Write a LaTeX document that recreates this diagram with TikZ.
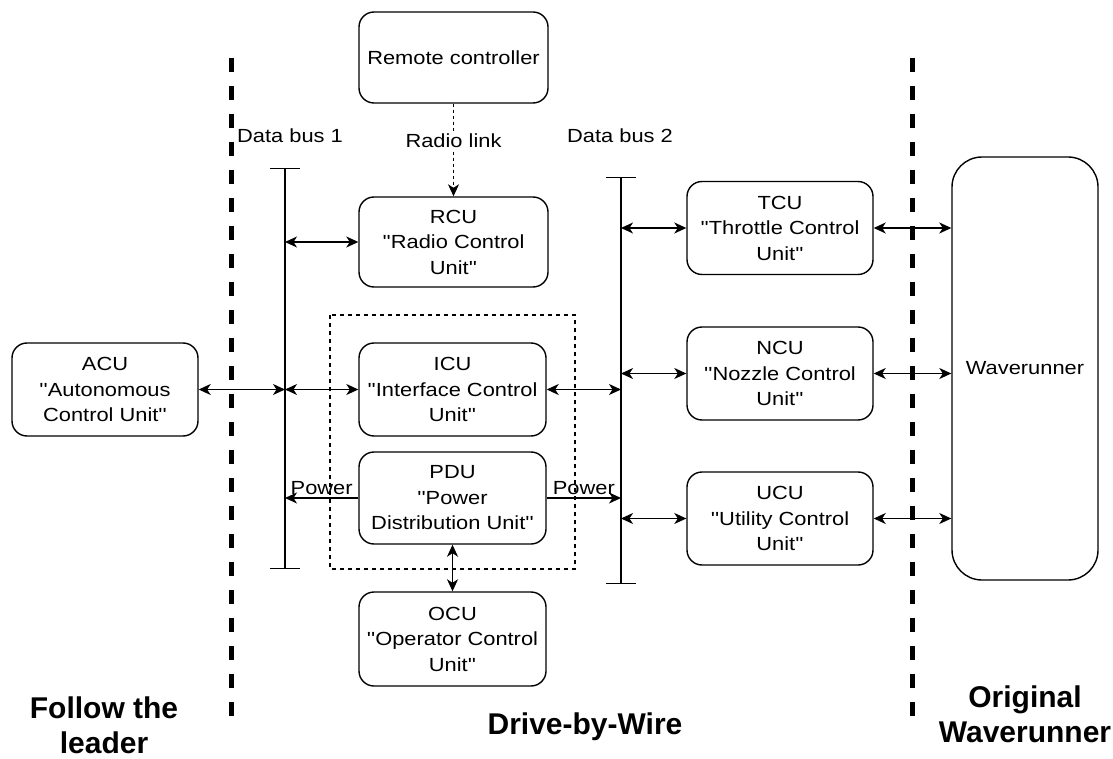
\documentclass[tikz,border=0pt]{standalone}
\usepackage{fontspec}
\setmainfont{Liberation Sans}
\newfontfamily\unitfont{Liberation Sans}[FakeStretch=1.15, Ligatures=TeXOff]
\usetikzlibrary{arrows.meta}
\begin{document}
\begin{tikzpicture}[x=1pt,y=-1pt,
  unit/.style={draw, line width=1.4pt, rounded corners=15pt, align=center,
    inner sep=0pt, font=\unitfont\fontsize{19}{25.5}\selectfont},
  biarrow/.style={line width=1.4pt, {Stealth[length=12pt,width=11pt,inset=3.5pt]}-{Stealth[length=12pt,width=11pt,inset=3.5pt]}},
  onearrow/.style={line width=1.4pt, -{Stealth[length=12pt,width=11pt,inset=3.5pt]}},
  bus/.style={line width=1.4pt, {Bar[width=30pt]}-{Bar[width=30pt]}},
  divider/.style={line width=5pt, dash pattern=on 14pt off 14pt},
  lbl/.style={font=\unitfont\fontsize{19}{25.5}\selectfont, inner sep=1pt},
  big/.style={font=\fontsize{30}{35}\selectfont\bfseries, align=center}
]
\useasboundingbox (0,0) rectangle (1113,759);
\fill[white] (0,0) rectangle (1113,759);

% dividers
\coordinate (d1t) at (231,58); \coordinate (d1b) at (231,716);
\coordinate (d2t) at (912,58); \coordinate (d2b) at (912,716);
\draw[divider] (d1t) -- (d1b);
\draw[divider] (d2t) -- (d2b);

% dashed grouping box
\draw[line width=1.2pt, dash pattern=on 4pt off 4pt] (330,315) rectangle (575,569);

% units
\node[unit, minimum width=189pt, minimum height=91pt] (remote) at (453.5,57.5) {Remote controller};
\node[unit, minimum width=189pt, minimum height=90pt] (rcu) at (453.5,242) {RCU\\''Radio Control\\Unit''};
\node[unit, minimum width=187pt, minimum height=93pt] (icu) at (452.5,389.5) {ICU\\''Interface Control\\Unit''};
\node[unit, minimum width=186pt, minimum height=93pt] (acu) at (105,389.5) {ACU\\''Autonomous\\Control Unit''};
\node[unit, minimum width=187pt, minimum height=92pt] (pdu) at (452.5,498) {PDU\\''Power\\Distribution Unit''};
\node[unit, minimum width=187pt, minimum height=94pt] (ocu) at (452.5,639) {OCU\\''Operator Control\\Unit''};
\node[unit, minimum width=186pt, minimum height=93pt] (tcu) at (780,228) {TCU\\''Throttle Control\\Unit''};
\node[unit, minimum width=186pt, minimum height=93pt] (ncu) at (780,373.5) {NCU\\''Nozzle Control\\Unit''};
\node[unit, minimum width=186pt, minimum height=93pt] (ucu) at (780,518.5) {UCU\\''Utility Control\\Unit''};
\node[unit, rounded corners=30pt, minimum width=146pt, minimum height=423pt] (wave) at (1025,368.5) {Waverunner};

% buses
\coordinate (b1t) at (285,168); \coordinate (b1b) at (285,569);
\coordinate (b2t) at (621,177); \coordinate (b2b) at (621,584);
\draw[bus] (b1t) -- (b1b);
\draw[bus] (b2t) -- (b2b);
\node[lbl, anchor=west] (db1) at (236,136) {Data bus 1};
\node[lbl, anchor=west] (db2) at (566,136) {Data bus 2};

% radio link
\draw[line width=1.2pt, dash pattern=on 3pt off 3pt, -{Stealth[length=12pt,width=11pt,inset=3.5pt]}]
  (remote.south) -- (rcu.north) node[pos=0.40, lbl, fill=white, inner sep=2pt] (rl) {Radio link};

% bus 1 connections
\draw[biarrow] (b1t |- rcu.west) -- (rcu.west);
\draw[biarrow] (acu.east) -- (b1t |- acu.east);
\draw[biarrow] (b1t |- icu.west) -- (icu.west);
\draw[onearrow] (pdu.west) -- (b1t |- pdu.west) node[midway, above, lbl, yshift=2pt] (pw1) {Power};

% bus 2 connections
\draw[biarrow] (icu.east) -- (b2t |- icu.east);
\draw[onearrow] (pdu.east) -- (b2t |- pdu.east) node[midway, above, lbl, yshift=2pt] (pw2) {Power};
\draw[biarrow] (b2t |- tcu.west) -- (tcu.west);
\draw[biarrow] (b2t |- ncu.west) -- (ncu.west);
\draw[biarrow] (b2t |- ucu.west) -- (ucu.west);

% PDU - OCU
\draw[biarrow] (pdu.south) -- (ocu.north);

% to waverunner
\draw[biarrow] (tcu.east) -- (wave.west |- tcu.east);
\draw[biarrow] (ncu.east) -- (wave.west |- ncu.east);
\draw[biarrow] (ucu.east) -- (wave.west |- ucu.east);

% region labels
\node[big] (ftl) at (104,725) {Follow the\\leader};
\node[big] (dbw) at (585,727) {Drive-by-Wire};
\node[big] (ow) at (1025,714) {Original\\Waverunner};
\end{tikzpicture}
\end{document}
